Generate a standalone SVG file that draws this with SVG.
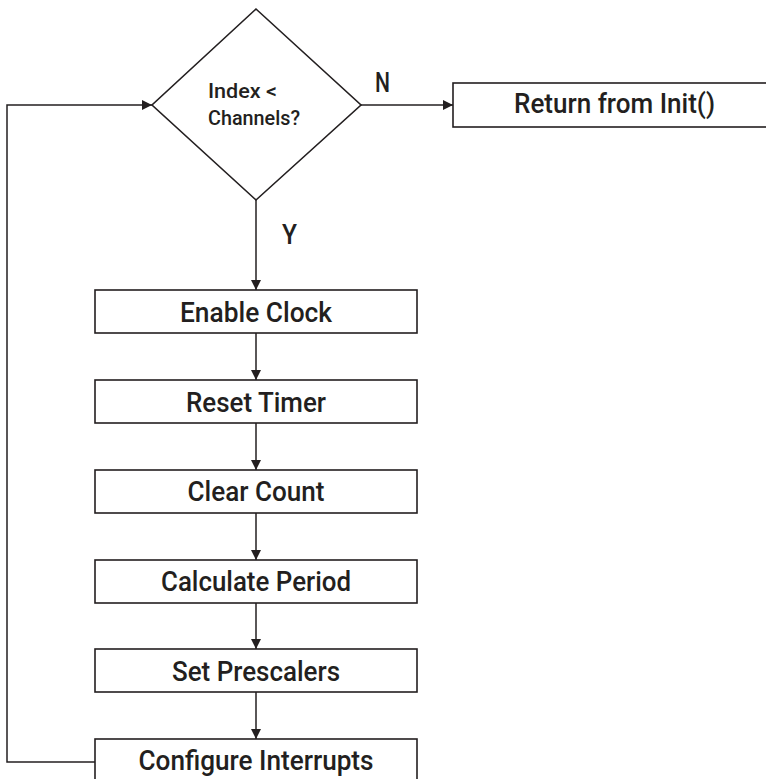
<svg xmlns="http://www.w3.org/2000/svg" width="766" height="779" viewBox="0 0 766 779">
  <style>
    .shape { fill: #ffffff; stroke: #231f20; stroke-width: 1.6; }
    .wire { fill: none; stroke: #231f20; stroke-width: 1.5; }
    .label { font-family: Roboto, "Liberation Sans", Arial, sans-serif; font-size: 28px; font-weight: 500; fill: #231f20; text-anchor: middle; }
    .small { font-family: Roboto, "Liberation Sans", Arial, sans-serif; font-size: 21px; font-weight: 500; fill: #231f20; }
    .yn { font-family: Roboto, "Liberation Sans", Arial, sans-serif; font-size: 28px; font-weight: 500; fill: #231f20; }
  </style>
  <defs>
    <marker id="arrow" viewBox="0 0 10 10" refX="10" refY="5" markerWidth="11" markerHeight="10" markerUnits="userSpaceOnUse" orient="auto">
      <path d="M0,0 L10,5 L0,10 Z" fill="#231f20"/>
    </marker>
  </defs>

  <rect width="766" height="779" fill="#ffffff"/>

  <!-- connectors -->
  <g id="connectors">
    <line class="wire" x1="361" y1="105" x2="453" y2="105" marker-end="url(#arrow)"/>
    <line class="wire" x1="256" y1="200" x2="256" y2="290" marker-end="url(#arrow)"/>
    <line class="wire" x1="256" y1="333" x2="256" y2="380" marker-end="url(#arrow)"/>
    <line class="wire" x1="256" y1="423" x2="256" y2="470" marker-end="url(#arrow)"/>
    <line class="wire" x1="256" y1="513" x2="256" y2="560" marker-end="url(#arrow)"/>
    <line class="wire" x1="256" y1="603" x2="256" y2="649" marker-end="url(#arrow)"/>
    <line class="wire" x1="256" y1="692" x2="256" y2="739" marker-end="url(#arrow)"/>
    <polyline class="wire" points="95,762 7,762 7,105 152,105" marker-end="url(#arrow)"/>
    <text class="yn" x="375" y="92" textLength="15" lengthAdjust="spacingAndGlyphs">N</text>
    <text class="yn" x="282" y="244" textLength="15" lengthAdjust="spacingAndGlyphs">Y</text>
  </g>

  <!-- decision -->
  <g id="decision">
    <polygon class="shape" points="256,9 361,105 256,200 152,105"/>
    <text class="small" x="208" y="98" textLength="69" lengthAdjust="spacingAndGlyphs">Index &lt;</text>
    <text class="small" x="208" y="125" textLength="92" lengthAdjust="spacingAndGlyphs">Channels?</text>
  </g>

  <g id="return">
    <rect class="shape" x="453" y="83" width="340" height="44"/>
    <text class="label" x="614.5" y="113" textLength="201" lengthAdjust="spacingAndGlyphs">Return from Init()</text>
  </g>

  <g id="enable-clock">
    <rect class="shape" x="95" y="290" width="322" height="43"/>
    <text class="label" x="256" y="322" textLength="152" lengthAdjust="spacingAndGlyphs">Enable Clock</text>
  </g>

  <g id="reset-timer">
    <rect class="shape" x="95" y="380" width="322" height="43"/>
    <text class="label" x="256" y="412" textLength="140" lengthAdjust="spacingAndGlyphs">Reset Timer</text>
  </g>

  <g id="clear-count">
    <rect class="shape" x="95" y="470" width="322" height="43"/>
    <text class="label" x="256" y="501" textLength="137" lengthAdjust="spacingAndGlyphs">Clear Count</text>
  </g>

  <g id="calculate-period">
    <rect class="shape" x="95" y="560" width="322" height="43"/>
    <text class="label" x="256" y="591" textLength="190" lengthAdjust="spacingAndGlyphs">Calculate Period</text>
  </g>

  <g id="set-prescalers">
    <rect class="shape" x="95" y="649" width="322" height="43"/>
    <text class="label" x="256" y="681" textLength="168" lengthAdjust="spacingAndGlyphs">Set Prescalers</text>
  </g>

  <g id="configure-interrupts">
    <rect class="shape" x="95" y="739" width="322" height="60"/>
    <text class="label" x="256" y="770" textLength="235" lengthAdjust="spacingAndGlyphs">Configure Interrupts</text>
  </g>
</svg>
